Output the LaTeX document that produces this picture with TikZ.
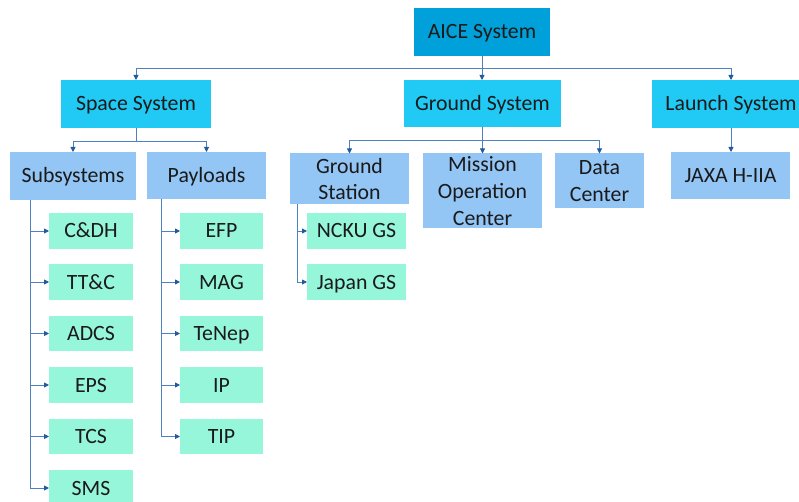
\documentclass[tikz,border=0pt]{standalone}
\usepackage{fontspec}
\setmainfont{Carlito}
\usetikzlibrary{arrows.meta,calc}
\definecolor{topblue}{HTML}{00A0DA}
\definecolor{sysblue}{HTML}{20CAF5}
\definecolor{subblue}{HTML}{93C5F5}
\definecolor{leafgreen}{HTML}{95F6DA}
\definecolor{linkblue}{HTML}{4F80C0}
\definecolor{tipblue}{HTML}{1F5A9E}
\definecolor{inktext}{HTML}{1A1A1A}
% box with corners (x1,y1)-(x2,y2), in pixels
\newcommand\orgbox[7]{%
  \node[#6, minimum width={(#4-#2)*1pt}, minimum height={(#5-#3)*1pt}]
    (#1) at ({(#2+#4)/2},{(#3+#5)/2}) {#7};}
\begin{document}
\begin{tikzpicture}[x=1pt,y=-1pt,
  boxbase/.style={inner sep=0pt, outer sep=0pt, align=center,
    text=inktext, font=\fontsize{21.8}{26.8}\selectfont},
  oneline/.style={text height=14pt, text depth=0pt},
  topbox/.style={boxbase, oneline, fill=topblue},
  sysbox/.style={boxbase, oneline, fill=sysblue},
  subbox/.style={boxbase, oneline, fill=subblue},
  tallbox/.style={boxbase, fill=subblue, yshift=-1.5pt},
  leafbox/.style={boxbase, oneline, fill=leafgreen},
  link/.style={draw=linkblue, line width=0.8pt},
  arr/.style={link, -{Triangle[width=5pt,length=5pt,color=tipblue]}}]
\clip (0,0) rectangle (799,502);
\useasboundingbox (0,0) rectangle (799,502);
\fill[white] (0,0) rectangle (799,502);

% top level
\orgbox{aice}{414}{8}{550}{56}{topbox}{AICE System}

% systems
\orgbox{space}{61}{80}{211}{128}{sysbox}{Space System}
\orgbox{ground}{404}{80}{561}{127}{sysbox}{Ground System}
\orgbox{launch}{652}{80}{810}{128}{sysbox}{Launch System}

% second level
\orgbox{subsys}{10}{152}{136}{200}{subbox}{Subsystems}
\orgbox{payloads}{147}{152}{266}{199}{subbox}{Payloads}
\orgbox{gstation}{290}{152}{409}{203}{tallbox}{Ground\\Station}
\orgbox{moc}{423}{152}{542}{227}{tallbox}{Mission\\Operation\\Center}
\orgbox{dcenter}{555}{152}{644}{207}{tallbox}{Data\\Center}
\orgbox{jaxa}{671}{152}{790}{199}{subbox}{JAXA H-IIA}

% subsystems
\orgbox{cdh}{49}{213}{133}{249}{leafbox}{C\&DH}
\orgbox{ttc}{49}{264}{133}{300}{leafbox}{TT\&C}
\orgbox{adcs}{49}{316}{133}{351}{leafbox}{ADCS}
\orgbox{eps}{49}{367}{133}{403}{leafbox}{EPS}
\orgbox{tcs}{49}{419}{133}{454}{leafbox}{TCS}
\orgbox{sms}{49}{470}{133}{506}{leafbox}{SMS}

% payloads
\orgbox{efp}{180}{213}{263}{249}{leafbox}{EFP}
\orgbox{mag}{180}{264}{263}{300}{leafbox}{MAG}
\orgbox{tenep}{180}{316}{263}{351}{leafbox}{TeNep}
\orgbox{ip}{180}{367}{263}{403}{leafbox}{IP}
\orgbox{tip}{180}{419}{263}{454}{leafbox}{TIP}

% ground stations
\orgbox{ncku}{307}{213}{406}{249}{leafbox}{NCKU GS}
\orgbox{japan}{307}{264}{406}{300}{leafbox}{Japan GS}

% AICE to the three systems
\draw[arr] (aice.south) -- (aice.south |- ground.north);
\draw[arr] (aice.south) -- ++(0,12) -| (space.north);
\draw[arr] (aice.south) -- ++(0,12) -| (launch.north);

% space system branches
\draw[arr] (space.south) -- ++(0,13) -| (subsys.north);
\draw[arr] (space.south) -- ++(0,13) -| (payloads.north);

% ground system branches
\draw[arr] (ground.south) -- (ground.south |- moc.north);
\draw[arr] (ground.south) -- ++(0,13) -| (gstation.north);
\draw[arr] (ground.south) -- ++(0,13) -| (dcenter.north);

% launch system
\draw[arr] (launch.south) -- (launch.south |- jaxa.north);

% trunks of the second level
\coordinate (subtrunk) at ($(subsys.south west)+(20,0)$);
\coordinate (paytrunk) at ($(payloads.south west)+(14,0)$);
\coordinate (gstrunk) at ($(gstation.south west)+(7,0)$);
\foreach \leaf in {cdh,ttc,adcs,eps,tcs,sms}
  \draw[arr] (subtrunk) |- (\leaf.west);
\foreach \leaf in {efp,mag,tenep,ip,tip}
  \draw[arr] (paytrunk) |- (\leaf.west);
\foreach \leaf in {ncku,japan}
  \draw[arr] (gstrunk) |- (\leaf.west);
\end{tikzpicture}
\end{document}
